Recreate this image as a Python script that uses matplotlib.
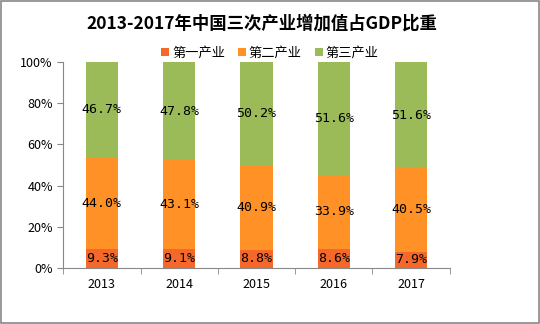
import matplotlib
matplotlib.use("Agg")
import matplotlib.pyplot as plt
import numpy as np

plt.rcParams['font.family'] = ['Noto Sans CJK SC', 'DejaVu Sans']

years = ['2013', '2014', '2015', '2016', '2017']
primary = [9.3, 9.1, 8.8, 8.6, 7.9]
secondary = [44.0, 43.1, 40.9, 33.9, 40.5]
tertiary = [46.7, 47.8, 50.2, 51.6, 51.6]
series_names = ['第一产业', '第二产业', '第三产业']
colors = ['#F4682A', '#FF9126', '#9BBB59']

data = np.array([primary, secondary, tertiary])
totals = data.sum(axis=0)
shares = data / totals * 100

fig = plt.figure(figsize=(5.4, 3.24), dpi=100)
ax = fig.add_axes([0.117, 0.173, 0.716, 0.636])

x = np.arange(len(years))
bottom = np.zeros(len(years))
for i in range(3):
    ax.bar(x, shares[i], width=0.42, bottom=bottom, color=colors[i],
           label=series_names[i], zorder=2)
    for j in range(len(years)):
        ax.text(x[j], bottom[j] + shares[i][j] / 2, f'{data[i][j]:.1f}%',
                ha='center', va='center', fontsize=9.5, color='black',
                family='DejaVu Sans Mono', zorder=3)
    bottom += shares[i]

ax.set_xlim(-0.5, len(years) - 0.5)
ax.set_ylim(0, 100)
ax.set_yticks([0, 20, 40, 60, 80, 100])
ax.set_yticklabels([f'{v}%' for v in [0, 20, 40, 60, 80, 100]], fontsize=9)
ax.set_xticks(x)
ax.set_xticklabels(years, fontsize=9)
ax.set_xticks(np.arange(-0.5, len(years)), minor=True)
ax.tick_params(axis='x', which='major', length=0, pad=7)
ax.tick_params(axis='x', which='minor', length=4, color='#888888', direction='out')
ax.tick_params(axis='y', length=4, color='#888888', direction='out')
for s in ['top', 'right']:
    ax.spines[s].set_visible(False)
ax.spines['left'].set_color('#888888')
ax.spines['bottom'].set_color('#888888')

fig.suptitle('2013-2017年中国三次产业增加值占GDP比重', fontsize=12.5, fontweight='bold',
             y=0.955, x=0.485)
fig.legend(loc='center', bbox_to_anchor=(0.5, 0.835), ncol=3, frameon=False,
           fontsize=9.5, handlelength=0.6, handleheight=0.6, handletextpad=0.2,
           columnspacing=1.0)

fig.patches.append(plt.Rectangle((0.002, 0.003), 0.996, 0.994, transform=fig.transFigure,
                                 fill=False, edgecolor='#888888', linewidth=1.2))

fig.savefig('out.png', dpi=100)
